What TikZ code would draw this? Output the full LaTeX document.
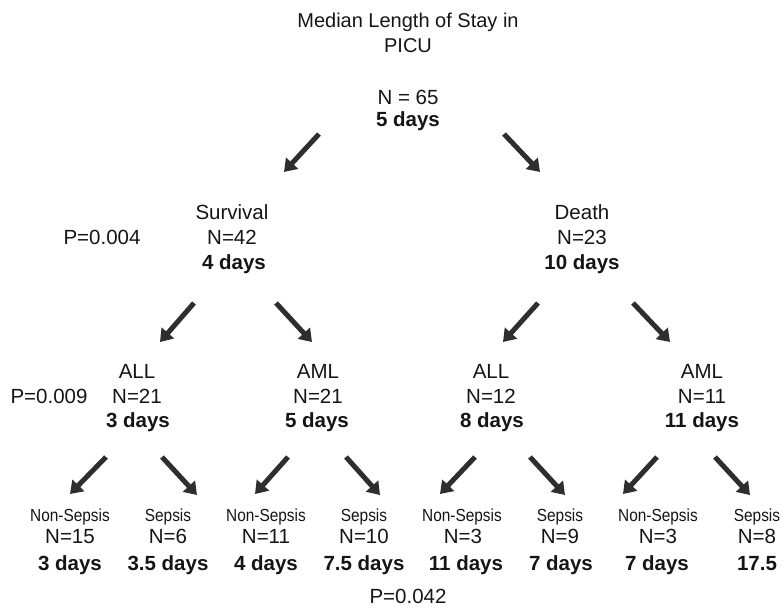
\documentclass[tikz,border=0pt]{standalone}
\usepackage{fontspec}
\setmainfont{Liberation Sans}
\usetikzlibrary{arrows.meta}
\definecolor{ink}{HTML}{151515}
\definecolor{arr}{HTML}{2E2E2E}
\newcommand{\cond}[1]{\scalebox{0.88}[1]{#1}}
\begin{document}
\begin{tikzpicture}[x=1pt,y=-1pt,
  txt/.style={anchor=base,inner sep=0pt,text=ink,font=\fontsize{20.5}{24}\selectfont},
  bld/.style={txt,font=\bfseries\fontsize{20.5}{24}\selectfont},
  sml/.style={txt,font=\fontsize{17.5}{20}\selectfont},
  arrowline/.style={draw=arr,line width=5pt,-{Triangle[length=12pt,width=16pt]}}]
\useasboundingbox (0,0) rectangle (784,609);
% title
\node[txt,font=\fontsize{20}{24}\selectfont] (t1) at (408,28) {Median Length of Stay in};
\node[txt,font=\fontsize{20}{24}\selectfont] (t2) at (408,53) {PICU};
\node[txt] (rN) at (408,105) {N = 65};
\node[bld] (rD) at (408,127) {5 days};
% level 1
\node[txt] (sL) at (232,220) {Survival};
\node[txt] (sN) at (232,245) {N=42};
\node[bld] (sD) at (234,270) {4 days};
\node[txt] (p1) at (102,245) {P=0.004};
\node[txt] (dL) at (582,220) {Death};
\node[txt] (dN) at (582,245) {N=23};
\node[bld] (dD) at (582,270) {10 days};
% level 2
\node[txt] (a1L) at (137,378) {ALL};
\node[txt] (a1N) at (137,403) {N=21};
\node[bld] (a1D) at (138,427) {3 days};
\node[txt] (p2) at (49,403) {P=0.009};
\node[txt] (m1L) at (318,378) {AML};
\node[txt] (m1N) at (318,403) {N=21};
\node[bld] (m1D) at (317,427) {5 days};
\node[txt] (a2L) at (491,378) {ALL};
\node[txt] (a2N) at (491,403) {N=12};
\node[bld] (a2D) at (492,427) {8 days};
\node[txt] (m2L) at (702,378) {AML};
\node[txt] (m2N) at (702,403) {N=11};
\node[bld] (m2D) at (702,427) {11 days};
% leaves
\node[sml] (l1L) at (70,521) {\cond{Non-Sepsis}};
\node[txt] (l1N) at (70,543) {N=15};
\node[bld] (l1D) at (70,570) {3 days};
\node[sml] (l2L) at (168,521) {\cond{Sepsis}};
\node[txt] (l2N) at (168,543) {N=6};
\node[bld] (l2D) at (168,570) {3.5 days};
\node[sml] (l3L) at (266,521) {\cond{Non-Sepsis}};
\node[txt] (l3N) at (266,543) {N=11};
\node[bld] (l3D) at (266,570) {4 days};
\node[sml] (l4L) at (364,521) {\cond{Sepsis}};
\node[txt] (l4N) at (364,543) {N=10};
\node[bld] (l4D) at (364,570) {7.5 days};
\node[sml] (l5L) at (462,521) {\cond{Non-Sepsis}};
\node[txt] (l5N) at (463,543) {N=3};
\node[bld] (l5D) at (466,570) {11 days};
\node[sml] (l6L) at (560,521) {\cond{Sepsis}};
\node[txt] (l6N) at (560,543) {N=9};
\node[bld] (l6D) at (561,570) {7 days};
\node[sml] (l7L) at (658,521) {\cond{Non-Sepsis}};
\node[txt] (l7N) at (658,543) {N=3};
\node[bld] (l7D) at (657,570) {7 days};
\node[sml] (l8L) at (757,521) {\cond{Sepsis}};
\node[txt] (l8N) at (757,543) {N=8};
\node[bld] (l8D) at (757,570) {17.5};
\node[txt] (p3) at (408,603) {P=0.042};
% arrow end points
\coordinate (r1s) at (319,134); \coordinate (r1e) at (284,172);
\coordinate (r2s) at (504,134); \coordinate (r2e) at (540,172);
\coordinate (s1s) at (194,303); \coordinate (s1e) at (160,342);
\coordinate (s2s) at (276,303); \coordinate (s2e) at (312,342);
\coordinate (d1s) at (538,303); \coordinate (d1e) at (503,342);
\coordinate (d2s) at (633,303); \coordinate (d2e) at (670,342);
\coordinate (b1s) at (106,457); \coordinate (b1e) at (70,494);
\coordinate (b2s) at (162,457); \coordinate (b2e) at (197,495);
\coordinate (b3s) at (288,457); \coordinate (b3e) at (255,494);
\coordinate (b4s) at (346,457); \coordinate (b4e) at (380,495);
\coordinate (b5s) at (475,457); \coordinate (b5e) at (440,494);
\coordinate (b6s) at (530,457); \coordinate (b6e) at (565,495);
\coordinate (b7s) at (657,457); \coordinate (b7e) at (623,494);
\coordinate (b8s) at (715,457); \coordinate (b8e) at (750,495);
\foreach \a in {r1,r2,s1,s2,d1,d2,b1,b2,b3,b4,b5,b6,b7,b8}
  \draw[arrowline] (\a s) -- (\a e);
\end{tikzpicture}
\end{document}
